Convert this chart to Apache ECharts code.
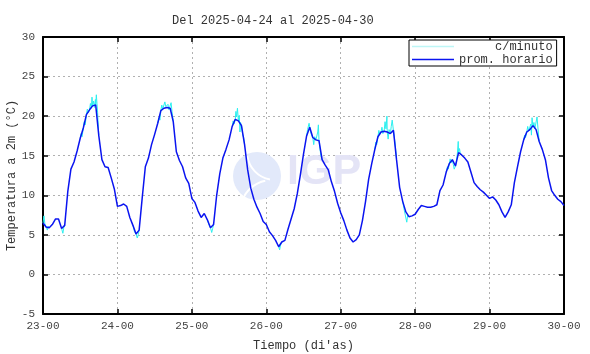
<!DOCTYPE html>
<html>
<head>
<meta charset="utf-8">
<script src="https://cdn.jsdelivr.net/npm/echarts@6/dist/echarts.min.js"></script>
<style>
  html, body { margin: 0; padding: 0; background: #fff; }
  #chart { width: 590px; height: 354px; }
</style>
</head>
<body>
<div id="chart"></div>
<script>
// etiquetas del eje x (un tick por dia)
var dayLabels = ['23-00', '24-00', '25-00', '26-00', '27-00', '28-00', '29-00', '30-00'];
var yTicks = [-5, 0, 5, 10, 15, 20, 25, 30];

// promedio horario, 24 valores por dia
var horario23 = [6.5, 6.0, 5.9, 6.3, 7.0, 7.0, 5.8, 6.2, 10.5, 13.3, 14.2, 15.6, 17.2, 18.5, 20.2, 20.8, 21.3, 21.4, 17.5, 14.5, 13.6, 13.5, 12.2, 10.8];
var horario24 = [8.6, 8.7, 8.9, 8.6, 7.2, 6.2, 5.1, 5.6, 9.7, 13.6, 14.7, 16.4, 17.7, 19.1, 20.7, 21.0, 21.1, 21.0, 19.3, 15.5, 14.4, 13.6, 12.2, 11.5];
var horario25 = [9.6, 9.1, 8.0, 7.2, 7.7, 6.9, 5.9, 6.3, 10.0, 12.7, 14.7, 15.8, 17.0, 18.7, 19.6, 19.4, 18.8, 16.4, 13.2, 10.9, 9.5, 8.5, 7.7, 6.7];
var horario26 = [6.3, 5.4, 4.9, 4.3, 3.5, 4.1, 4.3, 5.7, 7.0, 8.3, 10.2, 12.6, 15.2, 17.5, 18.6, 17.3, 17.0, 16.9, 14.5, 13.8, 13.2, 11.7, 10.5, 9.0];
var horario27 = [7.8, 6.8, 5.6, 4.6, 4.1, 4.4, 5.0, 6.8, 9.2, 12.0, 14.0, 15.8, 17.4, 18.0, 18.1, 18.0, 17.8, 18.2, 14.5, 11.0, 9.2, 7.9, 7.3, 7.4];
var horario28 = [7.6, 8.2, 8.7, 8.6, 8.5, 8.5, 8.6, 8.8, 10.6, 11.3, 12.9, 14.0, 14.5, 13.7, 15.4, 15.1, 14.7, 14.2, 12.9, 11.6, 11.1, 10.7, 10.4, 10.0];
var horario29 = [9.6, 9.8, 9.4, 8.8, 7.9, 7.2, 7.9, 8.8, 11.6, 13.6, 15.5, 17.0, 18.0, 18.3, 18.8, 18.3, 16.8, 15.8, 14.5, 12.2, 10.6, 10.0, 9.5, 9.2];
var horario30 = [8.7];

// datos por minuto donde se separan del promedio: [horas desde 23-00, valor]
var minutoA = [[0, 6.5], [0.3, 7.4], [0.6, 6.4], [1, 6.0], [1.4, 5.6], [1.7, 6.1], [2, 5.9]];
var minutoB = [[6, 5.8], [6.4, 5.2], [6.7, 5.9], [7, 6.2]];
var minutoC = [[12, 17.2], [12.3, 17.8], [12.6, 17.4], [13, 18.5], [13.3, 19.3], [13.6, 18.9], [14, 20.2], [14.3, 20.9], [14.6, 20.4], [15, 20.8], [15.3, 21.6], [15.6, 21.0], [15.8, 22.4], [16, 21.3], [16.3, 21.9], [16.6, 21.1], [16.9, 22.1], [17, 21.4], [17.2, 22.7], [17.4, 21.6], [17.6, 20.5], [18, 17.5]];
var minutoD = [[29, 6.2], [29.5, 5.4], [30, 5.1], [30.4, 4.6], [30.7, 5.0], [31, 5.6]];
var minutoE = [[37, 19.1], [37.4, 19.8], [37.7, 19.5], [38, 20.7], [38.3, 21.4], [38.6, 20.9], [39, 21.0], [39.3, 21.8], [39.6, 21.2], [40, 21.1], [40.3, 21.5], [40.6, 20.8], [41, 21.0], [41.3, 21.7], [41.6, 20.6], [42, 19.3]];
var minutoF = [[53, 6.9], [53.5, 6.3], [54, 5.9], [54.4, 5.3], [54.7, 5.8], [55, 6.3]];
var minutoG = [[61, 18.7], [61.3, 19.4], [61.6, 19.0], [62, 19.6], [62.2, 20.6], [62.4, 19.9], [62.7, 21.0], [63, 19.4], [63.3, 20.1], [63.5, 18.0], [63.7, 19.2], [64, 18.8], [64.4, 17.6], [64.7, 17.3], [65, 16.4]];
var minutoH = [[75.7, 3.8], [76, 3.5], [76.3, 3.1], [76.6, 3.7], [77, 4.1]];
var minutoI = [[85, 17.5], [85.3, 18.3], [85.6, 18.1], [85.8, 19.1], [86, 18.6], [86.3, 18.0], [86.6, 17.6], [87, 17.3], [87.3, 16.4], [87.6, 17.4], [88, 17.0], [88.3, 17.5], [88.6, 18.0], [88.8, 18.9], [89, 16.9], [89.3, 15.9], [89.6, 15.0], [90, 14.5]];
var minutoJ = [[107, 15.8], [107.3, 16.7], [107.6, 16.4], [108, 17.4], [108.3, 18.2], [108.6, 17.7], [109, 18.0], [109.3, 18.6], [109.6, 17.8], [110, 18.1], [110.3, 19.3], [110.6, 18.4], [110.9, 20.0], [111, 18.0], [111.3, 17.1], [111.6, 18.3], [112, 17.8], [112.3, 18.7], [112.6, 19.5], [113, 18.2], [113.4, 17.0], [113.7, 15.9], [114, 14.5]];
var minutoK = [[116, 9.2], [116.5, 8.1], [117, 7.9], [117.3, 6.6], [117.6, 7.5], [118, 7.3]];
var minutoL = [[130, 12.9], [130.4, 13.6], [130.7, 13.3], [131, 14.0], [131.3, 14.6], [131.6, 14.1], [132, 14.5], [132.3, 13.9], [132.6, 13.3], [133, 13.7], [133.3, 14.3], [133.6, 15.2], [133.9, 16.8], [134, 15.4], [134.3, 15.9], [134.6, 15.2], [135, 15.1]];
var minutoM = [[155, 17.0], [155.3, 17.6], [155.6, 17.3], [156, 18.0], [156.3, 18.7], [156.6, 18.1], [157, 18.3], [157.3, 19.0], [157.5, 17.6], [157.7, 19.8], [158, 18.6], [158.3, 19.2], [158.6, 18.4], [159, 18.3], [159.3, 19.9], [159.6, 18.5], [160, 16.8]];

var horario = [].concat(horario23, horario24, horario25, horario26, horario27, horario28, horario29, horario30);
var minutoTramos = [minutoA, minutoB, minutoC, minutoD, minutoE, minutoF, minutoG, minutoH, minutoI, minutoJ, minutoK, minutoL, minutoM];

var fuente = '"Liberation Mono", "DejaVu Sans Mono", monospace';
var colorMinuto = '#2af0f0';
var colorHorario = '#0a14f0';

var chart = echarts.init(document.getElementById('chart'));

var series = [];
minutoTramos.forEach(function (tramo) {
    series.push({
        name: 'c/minuto',
        type: 'line',
        data: tramo,
        symbol: 'none',
        animation: false,
        lineStyle: { color: colorMinuto, width: 1 },
        itemStyle: { color: colorMinuto },
        z: 3
    });
});
series.push({
    name: 'prom. horario',
    type: 'line',
    data: horario.map(function (v, i) { return [i, v]; }),
    symbol: 'none',
    animation: false,
    lineStyle: { color: colorHorario, width: 1.5 },
    itemStyle: { color: colorHorario },
    z: 4
});

var option = {
    backgroundColor: '#fff',
    animation: false,
    title: {
        text: 'Del 2025-04-24 al 2025-04-30',
        left: 167,
        top: 10,
        textStyle: { fontFamily: fuente, fontSize: 12, fontWeight: 'normal', color: '#333' }
    },
    legend: {
        data: [
            { name: 'c/minuto', itemStyle: { color: '#bdf6f6' } },
            { name: 'prom. horario', itemStyle: { color: colorHorario } }
        ],
        icon: 'rect',
        orient: 'vertical',
        left: 409,
        top: 40,
        padding: [0, 4, 0, 3],
        itemWidth: 42,
        itemHeight: 1.5,
        itemGap: 0,
        borderColor: '#000',
        borderWidth: 1,
        borderRadius: 0,
        backgroundColor: '#fff',
        formatter: function (name) {
            while (name.length < 13) name = ' ' + name;
            return name;
        },
        textStyle: { fontFamily: fuente, fontSize: 12, color: '#333', lineHeight: 13 }
    },
    grid: { left: 43, right: 26, top: 37, bottom: 40, outerBoundsMode: 'none', containLabel: false },
    graphic: [
        { type: 'circle', shape: { cx: 257, cy: 176, r: 24 }, style: { fill: '#e2e9fa' }, z: 1 },
        { type: 'arc', shape: { cx: 275, cy: 152, r: 28, startAngle: 1.75, endAngle: 3.0 }, style: { stroke: '#fff', lineWidth: 2, fill: null }, z: 1 },
        { type: 'arc', shape: { cx: 272, cy: 212, r: 32, startAngle: 3.5, endAngle: 4.5 }, style: { stroke: '#fff', lineWidth: 2, fill: null }, z: 1 },
        { type: 'text', left: 287, top: 151, style: { text: 'IGP', fill: '#e4e4f6', font: 'bold 43px "Liberation Sans", Arial, sans-serif' }, z: 1 }
    ],
    xAxis: [
        {
            type: 'value',
            min: 0,
            max: 168,
            interval: 24,
            position: 'bottom',
            name: "Tiempo (di'as)",
            nameLocation: 'middle',
            nameGap: 26,
            nameMoveOverlap: false,
            nameTextStyle: { fontFamily: fuente, fontSize: 12, color: '#333' },
            axisLine: { show: true, onZero: false, lineStyle: { color: '#000', width: 2 } },
            axisTick: { show: true, inside: true, length: 5, lineStyle: { color: '#000', width: 1.5 } },
            axisLabel: {
                margin: 7,
                fontFamily: fuente,
                fontSize: 11,
                color: '#444',
                formatter: function (v) { return dayLabels[Math.round(v / 24)]; }
            },
            splitLine: { show: true, lineStyle: { color: '#b0b0b0', type: [2, 3], width: 1 } }
        },
        {
            type: 'value',
            min: 0,
            max: 168,
            interval: 24,
            position: 'top',
            axisLine: { show: true, onZero: false, lineStyle: { color: '#000', width: 2 } },
            axisTick: { show: true, inside: true, length: 5, lineStyle: { color: '#000', width: 1.5 } },
            axisLabel: { show: false },
            splitLine: { show: false }
        }
    ],
    yAxis: [
        {
            type: 'value',
            min: yTicks[0],
            max: yTicks[yTicks.length - 1],
            interval: 5,
            position: 'left',
            name: 'Temperatura a 2m (°C)',
            nameLocation: 'middle',
            nameRotate: 90,
            nameGap: 25,
            nameMoveOverlap: false,
            nameTextStyle: { fontFamily: fuente, fontSize: 12, color: '#333' },
            axisLine: { show: true, onZero: false, lineStyle: { color: '#000', width: 2 } },
            axisTick: { show: true, inside: true, length: 5, lineStyle: { color: '#000', width: 1.5 } },
            axisLabel: { margin: 8, fontFamily: fuente, fontSize: 11, color: '#444' },
            splitLine: { show: true, lineStyle: { color: '#b0b0b0', type: [2, 3], width: 1 } }
        },
        {
            type: 'value',
            min: yTicks[0],
            max: yTicks[yTicks.length - 1],
            interval: 5,
            position: 'right',
            axisLine: { show: true, onZero: false, lineStyle: { color: '#000', width: 2 } },
            axisTick: { show: true, inside: true, length: 5, lineStyle: { color: '#000', width: 1.5 } },
            axisLabel: { show: false },
            splitLine: { show: false }
        }
    ],
    series: series
};

chart.setOption(option);
</script>
</body>
</html>
